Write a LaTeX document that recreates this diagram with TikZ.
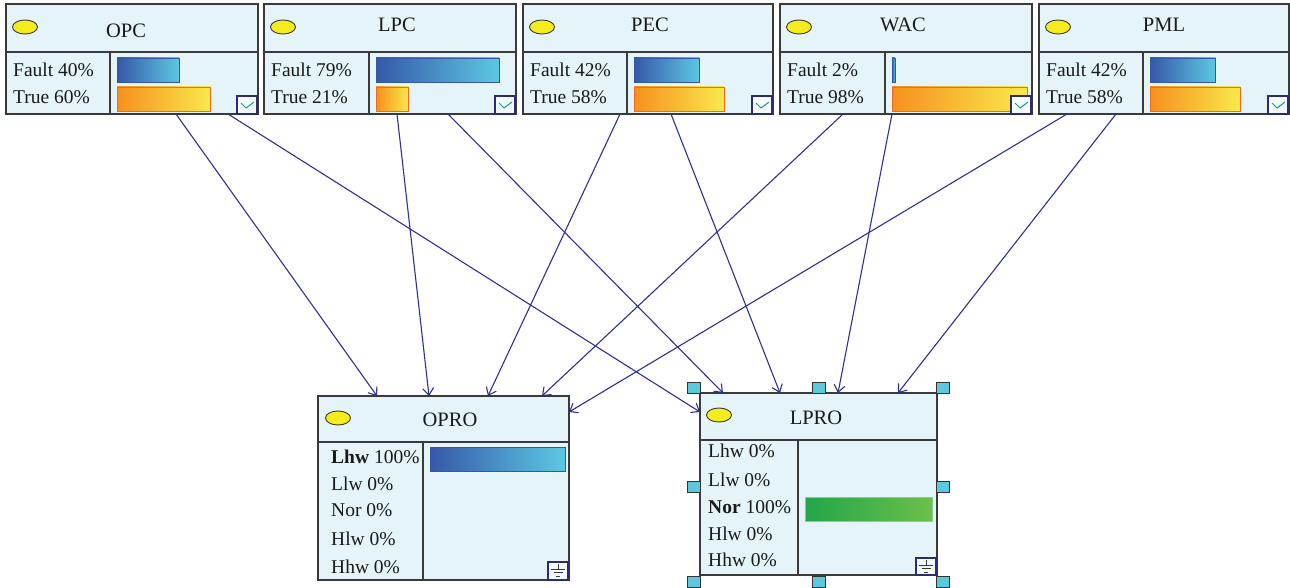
\documentclass[tikz,border=0pt]{standalone}
\usepackage{fontspec}
\setmainfont{Liberation Serif}
\usetikzlibrary{arrows.meta,calc}
\definecolor{boxfill}{HTML}{E4F4F8}
\definecolor{boxline}{HTML}{3A3A3A}
\definecolor{arrowc}{HTML}{2E3192}
\definecolor{blueL}{HTML}{3558A8}
\definecolor{blueR}{HTML}{5CC8E2}
\definecolor{orL}{HTML}{F7901E}
\definecolor{orR}{HTML}{F9E94C}
\definecolor{orB}{HTML}{F26A21}
\definecolor{grL}{HTML}{22A64A}
\definecolor{grR}{HTML}{6CBF4A}
\definecolor{grB}{HTML}{86D08A}
\definecolor{ell}{HTML}{F5EC1E}
\definecolor{handle}{HTML}{5BC8DC}
\definecolor{tickc}{HTML}{1A9A8A}
\definecolor{iconline}{HTML}{2E2A6E}
\definecolor{txt}{HTML}{1A1A1A}
\tikzset{
  box/.style={draw=boxline, fill=boxfill, line width=1.3pt, rectangle, inner sep=0pt, outer sep=0pt, anchor=north west},
  part/.style={draw=boxline, line width=1.3pt},
  lbl/.style={inner sep=0pt, anchor=base west, text=txt, font=\fontsize{19.5}{21}\selectfont},
  ttl/.style={inner sep=0pt, anchor=base, text=txt, font=\fontsize{20.5}{22}\selectfont},
  lamp/.style={draw=boxline, fill=ell, line width=0.9pt},
  arr/.style={draw=arrowc, line width=1.1pt, -{Straight Barb[length=7pt,width=11pt,line width=1.1pt]}},
  bluebar/.style={draw=blueL, line width=0.9pt},
  orbar/.style={draw=orB, line width=0.9pt},
  grbar/.style={draw=grB, line width=0.9pt},
  iconbox/.style={draw=iconline, fill=white!60!boxfill, line width=1.2pt},
  handlebox/.style={draw=black!80, fill=handle, line width=1pt},
}
\begin{document}
\begin{tikzpicture}[x=1pt,y=-1pt]
\useasboundingbox (0,0) rectangle (1290,588);
% ---------- top nodes ----------
\foreach \nm/\l/\d/\r/\f/\tx/\tb in {OPC/6/110/258/40/126/38, LPC/264/369/516/79/397/32, PEC/523/627/773/42/650/32, WAC/780/885/1032/2/903/32, PML/1039/1143/1289/42/1164/32}{
  \pgfmathtruncatemacro\t{100-\f}
  \pgfmathsetmacro\bw{max(1,1.56*\f)}
  \pgfmathsetmacro\oe{min(\d+7+1.56*\t,\r-5)}
  \node[box, minimum width={(\r-\l)*1pt}, minimum height=110pt] (\nm) at (\l,4) {};
  \draw[part] (\l,52) -- (\r,52);
  \draw[part] (\d,52) -- (\d,114);
  \filldraw[lamp] (\l+19,27) ellipse (12.5 and 7);
  \node[ttl] (\nm-title) at (\tx,\tb) {\nm};
  \node[lbl] (\nm-fault) at (\l+7,77) {Fault \f\%};
  \node[lbl] (\nm-true) at (\l+7,104) {True \t\%};
  \shade[left color=blueL, right color=blueR] (\d+7,58) rectangle (\d+7+\bw,82);
  \draw[bluebar] (\d+7,58) rectangle (\d+7+\bw,82);
  \shade[left color=orL, right color=orR] (\d+7,87) rectangle (\oe,111);
  \draw[orbar] (\d+7,87) rectangle (\oe,111);
  \draw[iconbox] (\r-21,96) rectangle (\r-1,114);
  \draw[tickc, line width=1pt] (\r-17,103) -- (\r-12,108) -- (\r-4,102);
}
% ---------- OPRO ----------
\node[box, minimum width=251pt, minimum height=184pt] (OPRO) at (318,396) {};
\draw[part] (318,442) -- (569,442);
\draw[part] (423,442) -- (423,580);
\filldraw[lamp] (338,418) ellipse (12.5 and 7);
\node[ttl] (OPRO-title) at (450,426) {OPRO};
\node[lbl] (OPRO-r1) at (331,463) {\textbf{Lhw} 100\%};
\node[lbl] (OPRO-r2) at (331,490) {Llw 0\%};
\node[lbl] (OPRO-r3) at (331,516) {Nor 0\%};
\node[lbl] (OPRO-r4) at (331,545) {Hlw 0\%};
\node[lbl] (OPRO-r5) at (331,573) {Hhw 0\%};
\shade[left color=blueL, right color=blueR] (430,447) rectangle (565,471);
\draw[bluebar] (430,447) rectangle (565,471);
\draw[iconbox] (548,562) rectangle (568,580);
\draw[boxline, line width=0.9pt] (558,564) -- (558,569) (551,569) -- (565,569) (553.5,572.5) -- (562.5,572.5) (556,576) -- (560,576);
% ---------- LPRO ----------
\node[box, minimum width=237pt, minimum height=182pt] (LPRO) at (700,393) {};
\draw[part] (700,440) -- (937,440);
\draw[part] (798,440) -- (798,575);
\filldraw[lamp] (719,415) ellipse (12.5 and 7);
\node[ttl] (LPRO-title) at (816,424) {LPRO};
\node[lbl] (LPRO-r1) at (708,457) {Lhw 0\%};
\node[lbl] (LPRO-r2) at (708,486) {Llw 0\%};
\node[lbl] (LPRO-r3) at (708,513) {\textbf{Nor} 100\%};
\node[lbl] (LPRO-r4) at (708,540) {Hlw 0\%};
\node[lbl] (LPRO-r5) at (708,566) {Hhw 0\%};
\shade[left color=grL, right color=grR] (805,497) rectangle (932,521);
\draw[grbar] (805,497) rectangle (932,521);
\draw[iconbox] (916,558) rectangle (936,575);
\draw[boxline, line width=0.9pt] (926,560) -- (926,565) (919,565) -- (933,565) (921.5,568.5) -- (930.5,568.5) (924,572) -- (928,572);
% selection handles
\foreach \hx in {694,819,943}{
  \foreach \hy in {388,582}{
    \draw[handlebox] (\hx-6.5,\hy-5.5) rectangle (\hx+6.5,\hy+5.5);
  }
}
\foreach \hx in {694,943}{
  \draw[handlebox] (\hx-6.5,487-5.5) rectangle (\hx+6.5,487+5.5);
}
% ---------- connectors ----------
\draw[arr] ([xshift=170pt]OPC.south west) -- ([xshift=59pt]OPRO.north west);
\draw[arr] ([xshift=222pt]OPC.south west) -- ([yshift=-19pt]LPRO.north west);
\draw[arr] ([xshift=133pt]LPC.south west) -- ([xshift=111pt]OPRO.north west);
\draw[arr] ([xshift=184pt]LPC.south west) -- ([xshift=23pt]LPRO.north west);
\draw[arr] ([xshift=97pt]PEC.south west) -- ([xshift=170pt]OPRO.north west);
\draw[arr] ([xshift=148pt]PEC.south west) -- ([xshift=80pt]LPRO.north west);
\draw[arr] ([xshift=63pt]WAC.south west) -- ([xshift=224pt]OPRO.north west);
\draw[arr] ([xshift=112pt]WAC.south west) -- ([xshift=138pt]LPRO.north west);
\draw[arr] ([xshift=28pt]PML.south west) -- ([yshift=-16pt]OPRO.north east);
\draw[arr] ([xshift=77pt]PML.south west) -- ([xshift=198pt]LPRO.north west);
\end{tikzpicture}
\end{document}
